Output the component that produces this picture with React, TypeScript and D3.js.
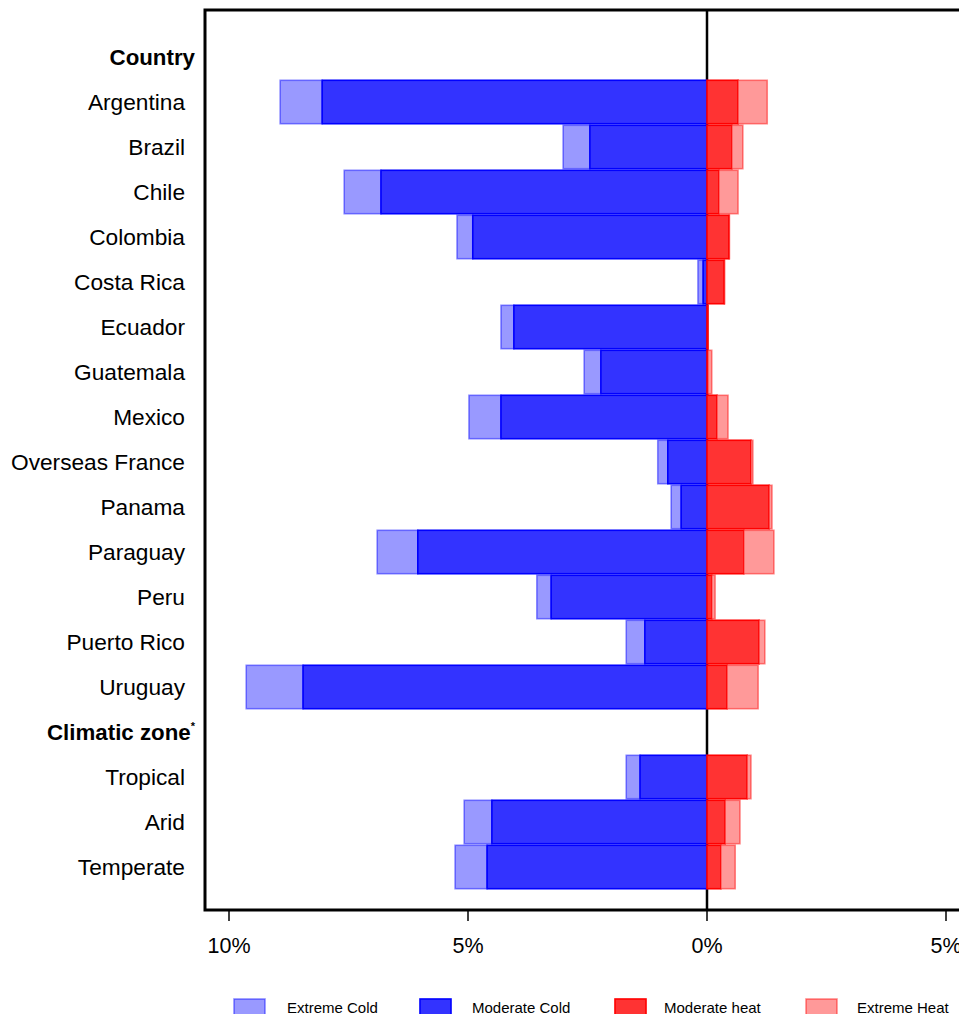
import React from "react";
import * as d3 from "d3";

const rows = [
  "Country", "Argentina", "Brazil", "Chile", "Colombia", "Costa Rica", "Ecuador", "Guatemala",
  "Mexico", "Overseas France", "Panama", "Paraguay", "Peru", "Puerto Rico", "Uruguay",
  "Climatic zone", "Tropical", "Arid", "Temperate",
];
const headers = ["Country", "Climatic zone"];
const categories = rows.filter((r) => !headers.includes(r));

const moderateCold = [8.05, 2.45, 6.82, 4.9, 0.08, 4.04, 2.22, 4.31, 0.82, 0.54, 6.05, 3.26, 1.3, 8.45, 1.4, 4.5, 4.6];
const extremeCold = [0.88, 0.56, 0.77, 0.33, 0.11, 0.27, 0.35, 0.67, 0.21, 0.21, 0.85, 0.3, 0.39, 1.19, 0.29, 0.58, 0.67];
const moderateHeat = [0.65, 0.52, 0.25, 0.46, 0.36, 0.02, 0.02, 0.21, 0.92, 1.3, 0.77, 0.1, 1.09, 0.42, 0.84, 0.38, 0.29];
const extremeHeat = [0.61, 0.23, 0.4, 0.01, 0.01, 0.0, 0.08, 0.23, 0.04, 0.06, 0.63, 0.07, 0.12, 0.65, 0.08, 0.31, 0.3];

const tickValues = [-10, -5, 0, 5];
const legendItems = ["Extreme Cold", "Moderate Cold", "Moderate heat", "Extreme Heat"];

const W = 959;
const H = 1014;
const font = "'Liberation Sans', Arial, Helvetica, sans-serif";

export default function App() {
  const x = d3.scaleLinear().domain([0, 5]).range([707, 946]);
  const y = d3.scaleBand<string>().domain(rows).range([34.5, 889.5]).paddingInner(0.035).paddingOuter(0.0175);
  const bw = y.bandwidth();

  const styles = [
    { fill: "#9999ff", stroke: "rgba(0,0,255,0.45)" },
    { fill: "#3333ff", stroke: "#0000ff" },
    { fill: "#ff3333", stroke: "#ff0000" },
    { fill: "#ff9999", stroke: "rgba(255,0,0,0.45)" },
  ];

  const bars: React.ReactNode[] = [];
  categories.forEach((c, i) => {
    const yy = y(c)!;
    const mc = moderateCold[i];
    const ec = extremeCold[i];
    const mh = moderateHeat[i];
    const eh = extremeHeat[i];
    const segs = [
      { a: -(mc + ec), b: -mc, s: styles[0] },
      { a: -mc, b: 0, s: styles[1] },
      { a: 0, b: mh, s: styles[2] },
      { a: mh, b: mh + eh, s: styles[3] },
    ];
    segs.forEach((sg, k) => {
      const x0 = x(Math.min(sg.a, sg.b));
      const x1 = x(Math.max(sg.a, sg.b));
      if (x1 - x0 <= 0) return;
      bars.push(
        <rect key={c + k} x={x0} y={yy} width={x1 - x0} height={bw}
          fill={sg.s.fill} stroke={sg.s.stroke} strokeWidth={1.6} />
      );
    });
  });

  const legendX = [234, 420, 615, 806];
  const legendTextX = [287, 472, 664, 857];

  return (
    <svg width={W} height={H} style={{ position: "absolute", left: 0, top: 0, background: "#fff" }}
      fontFamily={font}>
      <rect x={0} y={0} width={W} height={H} fill="#fff" />
      {/* zero line */}
      <line x1={x(0)} x2={x(0)} y1={10} y2={910} stroke="#000" strokeWidth={2.5} />
      {bars}
      {/* frame */}
      <rect x={205} y={10} width={800} height={900} fill="none" stroke="#000" strokeWidth={3} />
      {/* axis ticks */}
      {tickValues.map((t) => (
        <g key={t}>
          <line x1={x(t)} x2={x(t)} y1={910} y2={921} stroke="#000" strokeWidth={1.5} />
          <text x={x(t)} y={953} textAnchor="middle" fontSize={21.5}>{Math.abs(t)}%</text>
        </g>
      ))}
      {/* row labels */}
      {rows.map((r) => {
        const cy = y(r)! + bw / 2;
        const isH = headers.includes(r);
        return (
          <text key={r} x={isH ? 195 : 185} y={cy} dy="0.35em" textAnchor="end" fontSize={isH ? 22.3 : 22.7}
            fontWeight={isH ? "bold" : "normal"}>
            {r}
            {r === "Climatic zone" ? <tspan fontSize={11} dy="-0.9em">*</tspan> : null}
          </text>
        );
      })}
      {/* legend */}
      {legendItems.map((l, i) => (
        <g key={l}>
          <rect x={legendX[i]} y={999} width={31} height={20} fill={styles[i].fill}
            stroke={styles[i].stroke} strokeWidth={1.6} />
          <text x={legendTextX[i]} y={1013} fontSize={15}>{l}</text>
        </g>
      ))}
    </svg>
  );
}
